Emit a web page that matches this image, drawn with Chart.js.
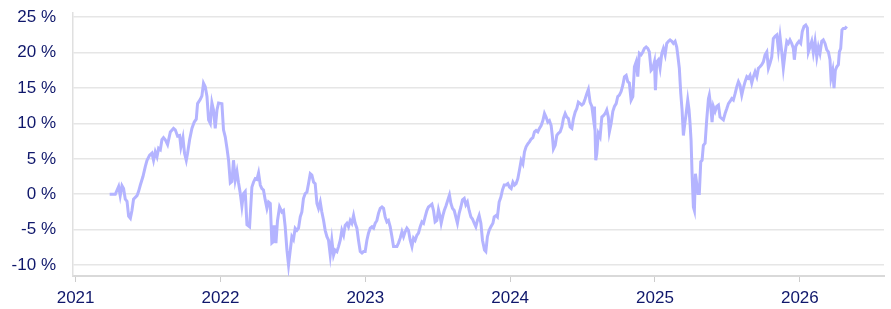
<!DOCTYPE html>
<html>
<head>
<meta charset="utf-8">
<script src="https://cdn.jsdelivr.net/npm/chart.js@4.4.1/dist/chart.umd.min.js"></script>
<style>
  body { margin: 0; background: #fff; }
  #wrap { width: 891px; height: 309px; }
</style>
</head>
<body>
<div id="wrap"><canvas id="perfChart"></canvas></div>
<script>
// Dates as decimal years, cumulative return in %
var dates = [
  2021.235, 2021.274, 2021.297, 2021.308, 2021.320, 2021.331, 2021.343, 2021.355, 2021.366, 2021.378,
  2021.389, 2021.400, 2021.424, 2021.435, 2021.447, 2021.465, 2021.481, 2021.493, 2021.511, 2021.527,
  2021.538, 2021.550, 2021.562, 2021.573, 2021.585, 2021.596, 2021.607, 2021.619, 2021.635, 2021.654,
  2021.676, 2021.688, 2021.704, 2021.718, 2021.727, 2021.741, 2021.752, 2021.764, 2021.773, 2021.787,
  2021.803, 2021.819, 2021.833, 2021.842, 2021.861, 2021.872, 2021.883, 2021.895, 2021.907, 2021.918,
  2021.930, 2021.941, 2021.952, 2021.964, 2021.976, 2021.987,
  2022.010, 2022.021, 2022.033, 2022.045, 2022.056, 2022.068, 2022.079, 2022.090, 2022.102, 2022.114,
  2022.125, 2022.137, 2022.148, 2022.159, 2022.171, 2022.183, 2022.201, 2022.217, 2022.228, 2022.240,
  2022.252, 2022.263, 2022.275, 2022.286, 2022.297, 2022.309, 2022.321, 2022.332, 2022.344, 2022.355,
  2022.366, 2022.371, 2022.383, 2022.394, 2022.408, 2022.424, 2022.435, 2022.447, 2022.459, 2022.470,
  2022.482, 2022.493, 2022.504, 2022.516, 2022.528, 2022.539, 2022.551, 2022.562, 2022.573, 2022.585,
  2022.597, 2022.608, 2022.620, 2022.631, 2022.643, 2022.654, 2022.666, 2022.677, 2022.689, 2022.700,
  2022.712, 2022.723, 2022.735, 2022.746, 2022.758, 2022.769, 2022.781, 2022.792, 2022.804, 2022.815,
  2022.827, 2022.838, 2022.850, 2022.861, 2022.873, 2022.884, 2022.896, 2022.907, 2022.919, 2022.930,
  2022.942, 2022.953, 2022.965, 2022.977, 2022.988, 2022.999,
  2023.011, 2023.022, 2023.034, 2023.046, 2023.057, 2023.068, 2023.080, 2023.091, 2023.103, 2023.115,
  2023.126, 2023.137, 2023.149, 2023.160, 2023.172, 2023.184, 2023.195, 2023.218, 2023.229, 2023.241,
  2023.253, 2023.264, 2023.275, 2023.287, 2023.298, 2023.310, 2023.322, 2023.333, 2023.344, 2023.356,
  2023.367, 2023.379, 2023.391, 2023.402, 2023.413, 2023.425, 2023.436, 2023.448, 2023.460, 2023.471,
  2023.482, 2023.494, 2023.505, 2023.517, 2023.524, 2023.536, 2023.545, 2023.558, 2023.570, 2023.581,
  2023.591, 2023.602, 2023.614, 2023.625, 2023.636, 2023.648, 2023.660, 2023.671, 2023.683, 2023.694,
  2023.705, 2023.717, 2023.729, 2023.740, 2023.752, 2023.763, 2023.774, 2023.786, 2023.798, 2023.809,
  2023.823, 2023.832, 2023.843, 2023.855, 2023.867, 2023.881, 2023.890, 2023.903, 2023.912, 2023.924,
  2023.936, 2023.947, 2023.959, 2023.972, 2023.984, 2023.995,
  2024.007, 2024.019, 2024.030, 2024.041, 2024.053, 2024.064, 2024.076, 2024.088, 2024.099, 2024.110,
  2024.122, 2024.133, 2024.145, 2024.157, 2024.168, 2024.179, 2024.191, 2024.202, 2024.214, 2024.226,
  2024.237, 2024.248, 2024.260, 2024.271, 2024.283, 2024.292, 2024.299, 2024.311, 2024.322, 2024.333,
  2024.345, 2024.357, 2024.368, 2024.380, 2024.391, 2024.402, 2024.414, 2024.426, 2024.437, 2024.449,
  2024.460, 2024.471, 2024.483, 2024.495, 2024.506, 2024.518, 2024.529, 2024.540, 2024.552, 2024.564,
  2024.575, 2024.582, 2024.591, 2024.598, 2024.609, 2024.621, 2024.633, 2024.644, 2024.656, 2024.667,
  2024.678, 2024.685, 2024.697, 2024.709, 2024.720, 2024.732, 2024.743, 2024.754, 2024.766, 2024.778,
  2024.789, 2024.801, 2024.812, 2024.823, 2024.835, 2024.847, 2024.858, 2024.870, 2024.881, 2024.892,
  2024.904, 2024.916, 2024.927, 2024.939, 2024.950, 2024.961, 2024.973, 2024.985, 2024.996,
  2025.003, 2025.012, 2025.024, 2025.035, 2025.047, 2025.058, 2025.070, 2025.081, 2025.093, 2025.104,
  2025.116, 2025.127, 2025.139, 2025.150, 2025.157, 2025.168, 2025.178, 2025.187, 2025.196, 2025.206,
  2025.215, 2025.226, 2025.235, 2025.242, 2025.249, 2025.256, 2025.265, 2025.272, 2025.279, 2025.288,
  2025.297, 2025.306, 2025.316, 2025.325, 2025.334, 2025.346, 2025.357, 2025.369, 2025.375, 2025.385,
  2025.394, 2025.403, 2025.415, 2025.426, 2025.438, 2025.449, 2025.472, 2025.484, 2025.496, 2025.507,
  2025.518, 2025.530, 2025.541, 2025.553, 2025.565, 2025.576, 2025.587, 2025.599, 2025.610, 2025.622,
  2025.634, 2025.645, 2025.656, 2025.668, 2025.679, 2025.691, 2025.703, 2025.714, 2025.725, 2025.737,
  2025.748, 2025.760, 2025.772, 2025.783, 2025.794, 2025.806, 2025.817, 2025.829, 2025.841, 2025.852,
  2025.863, 2025.875, 2025.886, 2025.898, 2025.910, 2025.921, 2025.932, 2025.944, 2025.955, 2025.962,
  2025.972, 2025.983, 2025.994,
  2026.006, 2026.017, 2026.029, 2026.041, 2026.052, 2026.059, 2026.070, 2026.082, 2026.093, 2026.105,
  2026.117, 2026.128, 2026.139, 2026.151, 2026.162, 2026.174, 2026.186, 2026.197, 2026.208, 2026.215,
  2026.227, 2026.236, 2026.245, 2026.255, 2026.266, 2026.273, 2026.282, 2026.291, 2026.300, 2026.312,
  2026.324
];

var returns = [
  0.0, 0.0, 1.1, -0.2, 1.2, 0.8, -0.7, -1.0, -3.1, -3.4,
  -2.3, -0.7, -0.2, 0.4, 1.3, 2.5, 3.9, 4.8, 5.5, 5.8,
  4.8, 6.0, 5.3, 6.5, 6.3, 7.7, 8.0, 7.7, 7.0, 8.8,
  9.3, 9.1, 8.2, 8.3, 6.7, 8.0, 5.8, 4.8, 5.8, 7.7,
  9.3, 10.2, 10.6, 12.8, 13.4, 13.9, 15.7, 15.2, 13.8, 10.5,
  10.0, 12.9, 11.9, 9.3, 11.9, 12.9,
  12.8, 9.1, 8.1, 6.5, 4.8, 1.6, 1.8, 4.8, 2.0, 3.2,
  1.6, 0.1, -1.7, 0.1, 0.4, -4.3, -4.6, 1.0, 1.7, 2.2,
  2.1, 3.0, 1.3, 0.8, 0.6, -0.8, -2.0, -1.1, -1.3, -6.9,
  -6.7, -4.4, -6.9, -3.7, -1.8, -2.5, -2.3, -4.6, -7.9, -10.0,
  -7.9, -6.0, -6.4, -4.8, -5.1, -4.8, -3.2, -2.5, -0.6, 0.1,
  0.3, 1.5, 2.9, 2.7, 1.7, 1.5, -1.3, -2.0, -1.1, -2.5,
  -3.7, -5.1, -6.0, -6.5, -8.6, -6.5, -8.6, -7.9, -8.1, -7.4,
  -6.5, -5.1, -5.8, -4.4, -4.1, -4.6, -3.7, -4.1, -3.0, -4.1,
  -4.8, -6.5, -8.1, -8.3, -8.1, -8.1,
  -6.5, -5.5, -4.8, -4.6, -4.8, -4.1, -3.7, -2.7, -2.0, -1.8,
  -2.0, -3.2, -3.9, -3.7, -4.6, -6.0, -7.4, -7.4, -6.9, -6.2,
  -5.3, -6.0, -5.3, -4.8, -5.1, -6.5, -7.4, -6.2, -6.5, -5.8,
  -5.5, -4.6, -3.9, -4.1, -3.2, -2.3, -1.8, -1.6, -1.4, -2.3,
  -3.9, -3.7, -2.2, -3.2, -4.1, -3.0, -2.3, -1.6, -0.8, -0.1,
  -1.3, -2.0, -2.3, -3.2, -4.1, -2.7, -1.8, -0.8, -0.6, -1.5,
  -1.1, -2.3, -3.2, -3.5, -4.1, -4.6, -3.7, -3.0, -4.1, -6.5,
  -7.9, -8.1, -6.0, -5.1, -4.6, -4.1, -3.2, -3.0, -3.2, -1.1,
  -0.4, 0.6, 1.3, 1.3, 1.5, 1.0,
  0.8, 1.7, 1.3, 1.5, 2.2, 3.4, 4.8, 4.3, 6.0, 6.7,
  7.1, 7.4, 7.8, 8.0, 8.8, 9.0, 8.8, 9.3, 9.7, 10.4,
  11.4, 10.9, 10.2, 10.4, 9.7, 8.1, 6.4, 6.9, 8.3, 8.6,
  8.8, 9.5, 10.7, 11.4, 10.9, 10.7, 9.5, 9.3, 10.7, 11.6,
  12.1, 13.0, 12.8, 12.6, 12.8, 13.5, 14.2, 14.8, 13.0, 12.4,
  10.7, 12.4, 4.8, 5.7, 8.6, 8.1, 10.9, 11.1, 11.4, 11.9,
  10.9, 8.8, 10.0, 11.7, 12.4, 12.8, 13.8, 14.0, 14.5, 15.4,
  16.6, 16.8, 15.9, 15.7, 13.3, 13.8, 18.0, 18.7, 16.6, 19.9,
  19.7, 20.1, 20.6, 20.8, 20.6, 20.1, 17.5, 17.8, 18.7,
  14.7, 18.7, 19.0, 17.8, 19.9, 20.6, 19.7, 21.3, 21.6, 21.8,
  21.6, 21.3, 21.6, 20.8, 19.7, 17.8, 14.2, 11.9, 8.3, 10.0,
  11.4, 13.3, 11.9, 10.0, 7.6, 2.9, -1.8, -2.3, 2.9, 1.5,
  0.1, 0.1, 4.6, 4.8, 6.9, 7.2, 10.5, 13.5, 14.0, 12.4,
  10.2, 12.4, 11.7, 12.4, 12.6, 10.9, 10.5, 11.4, 12.1, 12.8,
  13.1, 13.5, 13.3, 14.2, 15.2, 15.9, 15.4, 14.0, 15.0, 15.9,
  16.6, 16.4, 16.8, 15.7, 16.6, 17.3, 16.6, 17.8, 18.0, 18.3,
  18.7, 19.7, 20.1, 17.8, 18.5, 19.4, 22.0, 22.3, 22.5, 20.4,
  22.3, 20.1, 17.8, 19.9, 21.6, 21.3, 21.8, 21.3, 20.6, 19.0,
  20.9, 21.3, 21.6,
  21.3, 23.0, 23.7, 23.9, 23.5, 20.1, 20.8, 21.6, 20.0, 21.6,
  19.4, 20.8, 19.9, 21.6, 21.8, 21.3, 20.4, 20.1, 19.0, 16.4,
  17.5, 15.0, 17.5, 18.0, 18.3, 20.1, 20.6, 23.2, 23.4, 23.4,
  23.7
];

var yearTicks = [2021, 2022, 2023, 2024, 2025, 2026];
var pctTicks = [-10, -5, 0, 5, 10, 15, 20, 25];

var textColor = '#0f176b';
var lineColor = 'rgb(180, 180, 255)';

var points = dates.map(function (d, i) { return { x: d, y: returns[i] }; });

var ctx = document.getElementById('perfChart').getContext('2d');
var perfChart = new Chart(ctx, {
    type: 'line',
    data: {
        datasets: [{
            data: points,
            borderColor: lineColor,
            borderWidth: 3,
            pointRadius: 0,
            tension: 0,
            fill: false
        }]
    },
    options: {
        responsive: true,
        maintainAspectRatio: false,
        animation: false,
        layout: { padding: { top: 13, right: 7, left: 0, bottom: 0 } },
        plugins: {
            legend: { display: false },
            tooltip: { enabled: false }
        },
        scales: {
            x: {
                type: 'linear',
                min: 2020.982,
                max: 2026.581,
                afterBuildTicks: function (scale) {
                    scale.ticks = yearTicks.map(function (v) { return { value: v }; });
                },
                afterFit: function (scale) {
                    scale.height = 33;
                    scale.paddingLeft = 0;
                    scale.paddingRight = 0;
                },
                grid: {
                    drawOnChartArea: false,
                    drawTicks: true,
                    tickLength: 6,
                    color: '#cccccc',
                    lineWidth: 1
                },
                border: { color: '#d9d9d9', width: 2 },
                ticks: {
                    color: textColor,
                    font: { family: '"Liberation Sans", Arial, sans-serif', size: 17 },
                    padding: 6,
                    maxRotation: 0,
                    callback: function (v) { return String(v); }
                }
            },
            y: {
                min: -11.55,
                max: 25.6,
                afterBuildTicks: function (scale) {
                    scale.ticks = pctTicks.map(function (v) { return { value: v }; });
                },
                afterFit: function (scale) {
                    scale.width = 73;
                    scale.paddingTop = 0;
                    scale.paddingBottom = 0;
                },
                grid: {
                    drawTicks: false,
                    color: '#e6e6e6',
                    lineWidth: 1.5
                },
                border: { color: '#e0e0e0', width: 1.5 },
                ticks: {
                    color: textColor,
                    font: { family: '"Liberation Sans", Arial, sans-serif', size: 17 },
                    padding: 17,
                    callback: function (v) { return v + ' %'; }
                }
            }
        }
    }
});
</script>
</body>
</html>
